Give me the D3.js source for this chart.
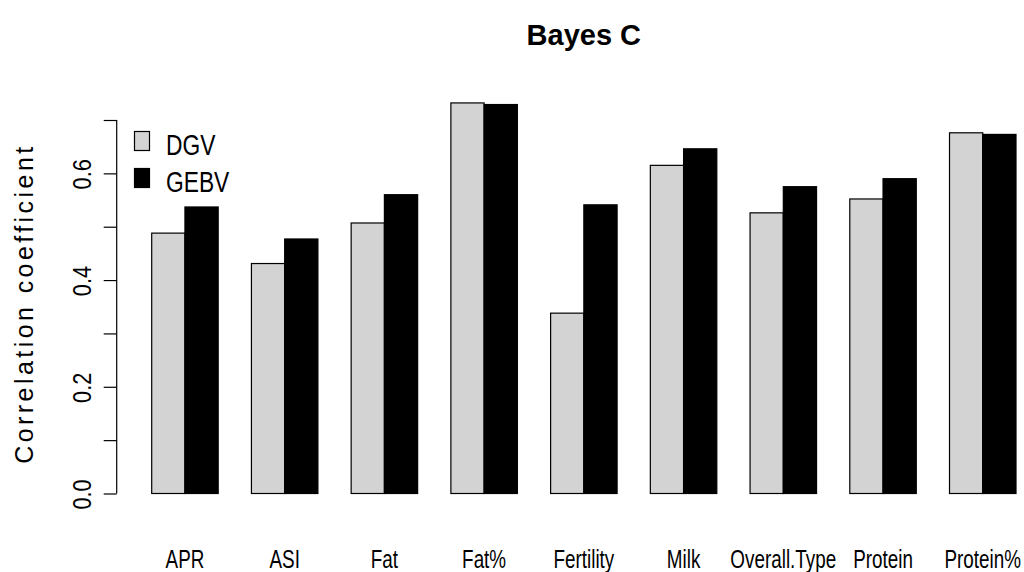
<!DOCTYPE html>
<html>
<head>
<meta charset="utf-8">
<script src="https://cdn.jsdelivr.net/npm/d3@7"></script>
<style>
  html, body { margin: 0; padding: 0; background: #fff; }
  svg { display: block; font-family: "Liberation Sans", Arial, Helvetica, sans-serif; }
</style>
</head>
<body>
<svg id="chart" width="1024" height="572"></svg>
<script>
// Traits and correlation coefficients for the two predictors
const traits = ["APR", "ASI", "Fat", "Fat%", "Fertility", "Milk", "Overall.Type", "Protein", "Protein%"];
const dgv  = [0.488, 0.431, 0.507, 0.732, 0.338, 0.615, 0.526, 0.552, 0.676];
const gebv = [0.537, 0.477, 0.560, 0.729, 0.541, 0.646, 0.575, 0.590, 0.673];
const seriesNames = ["DGV", "GEBV"];
const seriesFills = ["#d3d3d3", "#000000"];
const yTicks = [0, 0.1, 0.2, 0.3, 0.4, 0.5, 0.6, 0.7];
const yLabelTicks = [0, 0.2, 0.4, 0.6];

const svg = d3.select("#chart");

// Bar units: each group is two unit-wide bars followed by a one-unit gap
const x = d3.scaleLinear().domain([1, 27]).range([151.7, 1016]);
const y = d3.scaleLinear().domain([0, 0.7]).range([493.5, 120]);

const rows = traits.map((t, i) => ({ trait: t, i, values: [dgv[i], gebv[i]] }));

// Bars
const groups = svg.append("g").selectAll("g").data(rows).join("g");
groups.selectAll("rect")
  .data(d => d.values.map((v, k) => ({ v, k, i: d.i })))
  .join("rect")
  .attr("x", d => x(1 + 3 * d.i + d.k))
  .attr("width", d => x(2 + 3 * d.i + d.k) - x(1 + 3 * d.i + d.k))
  .attr("y", d => y(d.v))
  .attr("height", d => y(0) - y(d.v))
  .attr("fill", d => seriesFills[d.k])
  .attr("stroke", "#000")
  .attr("stroke-width", 1.2);

// Category labels under each pair
svg.append("g").selectAll("g").data(rows).join("g")
  .attr("transform", d => `translate(${x(2 + 3 * d.i)},567.5) scale(0.74,1)`)
  .append("text")
  .attr("text-anchor", "middle")
  .attr("font-size", 25.5)
  .attr("fill", "#000")
  .text(d => d.trait);

// Y axis
const axis = d3.axisLeft(y).tickValues(yTicks).tickSize(13).tickFormat("");
const ax = svg.append("g").attr("transform", "translate(116.7,0)").call(axis);
ax.select(".domain").attr("stroke", "#000").attr("stroke-width", 1.2)
  .attr("d", `M0,${y(0)}V${y(0.7)}`);
ax.selectAll(".tick line").attr("stroke", "#000").attr("stroke-width", 1.2);

// Rotated tick labels
svg.append("g").selectAll("g").data(yLabelTicks).join("g")
  .attr("transform", d => `translate(90.6,${y(d) + 1}) rotate(-90) scale(0.82,1)`)
  .append("text")
  .attr("text-anchor", "middle")
  .attr("font-size", 26.5)
  .text(d => d3.format(".1f")(d));

// Y axis title
svg.append("text")
  .attr("transform", "translate(33,305.3) rotate(-90)")
  .attr("text-anchor", "middle")
  .attr("font-size", 25)
  .attr("textLength", 317)
  .attr("lengthAdjust", "spacing")
  .text("Correlation coefficient");

// Title
svg.append("text")
  .attr("x", (x(1) + x(27)) / 2)
  .attr("y", 45)
  .attr("text-anchor", "middle")
  .attr("font-size", 29)
  .attr("font-weight", "bold")
  .text("Bayes C");

// Legend
const legendRows = [134.5, 171.5];
const leg = svg.append("g").selectAll("g").data(seriesNames).join("g");
leg.append("rect")
  .attr("x", 134.5)
  .attr("y", (d, k) => legendRows[k] - 3)
  .attr("width", 15)
  .attr("height", 19)
  .attr("fill", (d, k) => seriesFills[k])
  .attr("stroke", "#000")
  .attr("stroke-width", 1.2);
leg.append("g")
  .attr("transform", (d, k) => `translate(166,${legendRows[k] + 20.5}) scale(0.76,1)`)
  .append("text")
  .attr("font-size", 30)
  .text(d => d);
</script>
</body>
</html>
